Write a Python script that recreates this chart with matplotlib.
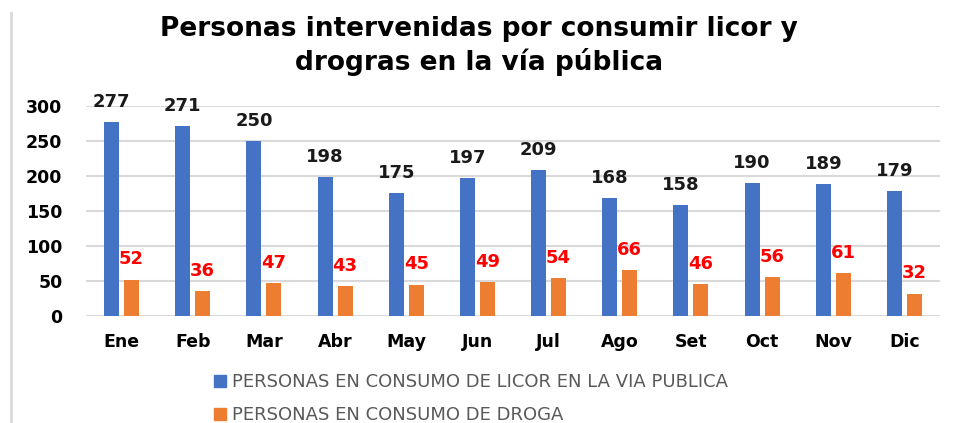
import matplotlib
matplotlib.use('Agg')
import matplotlib.pyplot as plt
import numpy as np
from matplotlib.lines import Line2D

# Monthly counts
months = ['Ene', 'Feb', 'Mar', 'Abr', 'May', 'Jun', 'Jul', 'Ago', 'Set', 'Oct', 'Nov', 'Dic']
licor = [277, 271, 250, 198, 175, 197, 209, 168, 158, 190, 189, 179]
droga = [52, 36, 47, 43, 45, 49, 54, 66, 46, 56, 61, 32]

title = 'Personas intervenidas por consumir licor y\ndrogras en la vía pública'
label_licor = 'PERSONAS EN CONSUMO DE LICOR EN LA VIA PUBLICA'
label_droga = 'PERSONAS EN CONSUMO DE DROGA'

blue = '#4472C4'
orange = '#ED7D31'

plt.rcParams['font.family'] = ['DejaVu Sans']

fig = plt.figure(figsize=(9.58, 4.23), dpi=100)
ax = fig.add_axes([86 / 958, 1 - 316 / 423, 854 / 958, 210 / 423])

x = np.arange(len(months))
w = 0.21
gap = 0.035
ax.bar(x - w / 2 - gap, licor, w, color=blue, zorder=3)
ax.bar(x + w / 2 + gap, droga, w, color=orange, zorder=3)

for xi, v in zip(x - w / 2 - gap, licor):
    ax.annotate(str(v), (xi, v), xytext=(0, 8), textcoords='offset points',
                ha='center', va='bottom', fontsize=13, fontweight='bold',
                color='#1a1a1a', annotation_clip=False)
for xi, v in zip(x + w / 2 + gap, droga):
    ax.annotate(str(v), (xi, v), xytext=(0, 8), textcoords='offset points',
                ha='center', va='bottom', fontsize=13, fontweight='bold',
                color='#FF0000', annotation_clip=False)

ax.set_xlim(-0.5, len(months) - 0.5)
ax.set_ylim(0, 300)
ax.set_yticks(range(0, 301, 50))
ax.grid(axis='y', color='#d9d9d9', linewidth=1.5, zorder=0)
for s in ax.spines.values():
    s.set_visible(False)
ax.tick_params(length=0)
ax.tick_params(axis='y', pad=17, labelsize=12.5)
ax.tick_params(axis='x', pad=12, labelsize=12.5)
ax.set_xticks(x)
ax.set_xticklabels(months, fontweight='bold')
for t in ax.get_yticklabels():
    t.set_fontweight('bold')

fig.text(0.5, 1 - 46 / 423, title, ha='center', va='center', fontsize=19,
         fontweight='bold', linespacing=1.3, color='#000000')

# legend drawn as two stacked rows
handles = [Line2D([], [], marker='s', linestyle='', color=blue, markersize=8),
           Line2D([], [], marker='s', linestyle='', color=orange, markersize=8)]
fig.legend(handles, [label_licor, label_droga], loc='upper left',
           bbox_to_anchor=(200 / 958, 1 - 362 / 423), frameon=False,
           prop={'size': 13}, labelcolor='#595959', handletextpad=0.2,
           labelspacing=0.85, handlelength=1.0, borderaxespad=0.2)

# thin frame on the left edge
fig.add_artist(Line2D([11 / 958, 11 / 958], [0, 1 - 13 / 423],
                      transform=fig.transFigure, color='#d9d9d9', linewidth=2))

fig.savefig('out.png', dpi=100)
